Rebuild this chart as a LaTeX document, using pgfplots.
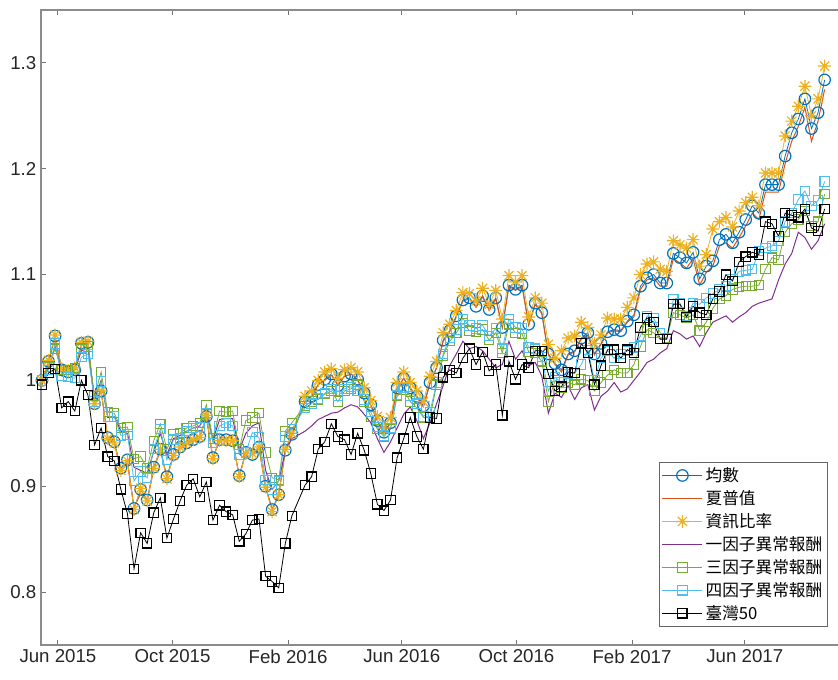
\documentclass[border=0pt]{standalone}
\usepackage{fontspec}
\setmainfont{Liberation Sans}
\newfontfamily\cjk{Noto Sans CJK TC}
\usepackage{pgfplots}
\usepackage{pgfplotstable}
\pgfplotsset{compat=1.18}
\definecolor{mblue}{RGB}{0,114,189}
\definecolor{morange}{RGB}{217,83,25}
\definecolor{myellow}{RGB}{237,177,32}
\definecolor{mpurple}{RGB}{126,47,142}
\definecolor{mgreen}{RGB}{119,172,48}
\definecolor{mcyan}{RGB}{77,190,238}
\pgfdeclareplotmark{mast}{%
  \pgfpathmoveto{\pgfqpoint{-\pgfplotmarksize}{0pt}}\pgfpathlineto{\pgfqpoint{\pgfplotmarksize}{0pt}}%
  \pgfpathmoveto{\pgfqpoint{0pt}{-\pgfplotmarksize}}\pgfpathlineto{\pgfqpoint{0pt}{\pgfplotmarksize}}%
  \pgfpathmoveto{\pgfqpoint{-0.707\pgfplotmarksize}{-0.707\pgfplotmarksize}}\pgfpathlineto{\pgfqpoint{0.707\pgfplotmarksize}{0.707\pgfplotmarksize}}%
  \pgfpathmoveto{\pgfqpoint{-0.707\pgfplotmarksize}{0.707\pgfplotmarksize}}\pgfpathlineto{\pgfqpoint{0.707\pgfplotmarksize}{-0.707\pgfplotmarksize}}%
  \pgfusepathqstroke}

\pgfplotstableread{
d B O Y P G C K
-17 1.000 1.000 1.000 1.000 1.000 1.000 0.996
-10 1.018 1.017 1.019 1.012 1.013 1.010 1.007
-3 1.042 1.041 1.043 1.032 1.030 1.035 1.011
4 1.010 1.010 1.011 1.008 1.010 1.004 0.974
11 1.008 1.009 1.009 1.008 1.010 1.003 0.980
18 1.010 1.010 1.012 1.010 1.012 1.002 0.971
25 1.035 1.034 1.036 1.028 1.030 1.022 1.000
32 1.036 1.036 1.037 1.030 1.032 1.025 0.986
39 0.978 0.977 0.978 0.982 0.985 0.980 0.939
46 0.990 0.990 0.990 1.000 1.008 0.999 0.955
53 0.946 0.945 0.945 0.965 0.970 0.966 0.928
60 0.942 0.941 0.941 0.966 0.969 0.966 0.924
67 0.917 0.914 0.915 0.952 0.955 0.948 0.897
74 0.925 0.922 0.924 0.950 0.956 0.949 0.874
81 0.879 0.880 0.878 0.918 0.926 0.905 0.822
88 0.897 0.893 0.898 0.915 0.928 0.914 0.856
95 0.887 0.886 0.886 0.912 0.917 0.908 0.846
102 0.918 0.916 0.917 0.933 0.943 0.935 0.875
109 0.935 0.934 0.935 0.950 0.959 0.954 0.889
116 0.909 0.908 0.907 0.930 0.935 0.925 0.851
123 0.930 0.929 0.929 0.945 0.949 0.944 0.869
130 0.937 0.936 0.937 0.948 0.950 0.945 0.886
137 0.941 0.940 0.941 0.952 0.955 0.952 0.901
144 0.944 0.944 0.944 0.955 0.957 0.955 0.907
151 0.947 0.946 0.946 0.957 0.960 0.956 0.890
158 0.966 0.965 0.967 0.970 0.977 0.969 0.904
165 0.927 0.926 0.926 0.944 0.945 0.941 0.868
172 0.944 0.944 0.943 0.963 0.971 0.957 0.882
179 0.944 0.943 0.943 0.964 0.970 0.960 0.876
186 0.943 0.943 0.943 0.964 0.971 0.957 0.873
193 0.910 0.909 0.909 0.934 0.935 0.930 0.848
200 0.932 0.932 0.931 0.950 0.962 0.932 0.855
207 0.930 0.930 0.931 0.957 0.965 0.951 0.868
214 0.937 0.936 0.937 0.960 0.969 0.946 0.869
221 0.900 0.899 0.899 0.915 0.932 0.906 0.815
228 0.878 0.878 0.876 0.897 0.908 0.897 0.810
235 0.892 0.891 0.892 0.905 0.906 0.905 0.804
242 0.934 0.934 0.935 0.933 0.952 0.947 0.846
249 0.949 0.948 0.950 0.945 0.960 0.954 0.872
263 0.980 0.980 0.985 0.952 0.976 0.974 0.901
270 0.985 0.985 0.990 0.957 0.980 0.978 0.909
277 0.996 0.996 1.000 0.963 0.982 0.983 0.935
284 1.001 1.000 1.008 0.966 0.987 0.988 0.942
291 1.006 1.005 1.011 0.969 0.990 0.992 0.959
298 0.995 0.996 1.002 0.970 0.980 0.985 0.947
305 1.004 1.004 1.010 0.974 0.990 0.992 0.944
312 1.006 1.006 1.012 0.977 0.992 0.994 0.930
319 1.001 1.000 1.008 0.975 0.996 0.990 0.950
326 0.988 0.988 0.993 0.968 0.980 0.982 0.934
333 0.977 0.976 0.981 0.960 0.966 0.970 0.912
340 0.962 0.962 0.966 0.945 0.954 0.956 0.883
347 0.951 0.950 0.955 0.932 0.947 0.948 0.877
354 0.960 0.960 0.965 0.942 0.954 0.955 0.887
361 0.993 0.992 0.998 0.955 0.985 0.986 0.927
368 1.002 1.002 1.008 0.968 0.991 0.993 0.945
375 0.993 0.992 0.998 0.975 0.980 0.985 0.965
382 0.985 0.984 0.990 0.962 0.974 0.978 0.947
389 0.976 0.975 0.980 0.945 0.965 0.966 0.935
396 0.998 0.997 1.004 0.960 0.965 0.970 0.965
403 1.012 1.012 1.018 0.978 0.996 0.998 0.964
410 1.038 1.037 1.045 0.995 1.023 1.025 1.003
417 1.047 1.046 1.053 1.014 1.037 1.040 1.010
424 1.061 1.060 1.066 1.025 1.045 1.048 1.007
431 1.076 1.075 1.083 1.037 1.054 1.058 1.021
438 1.078 1.077 1.082 1.030 1.047 1.052 1.030
445 1.070 1.069 1.075 1.032 1.046 1.049 1.015
452 1.080 1.079 1.087 1.028 1.048 1.052 1.027
459 1.067 1.066 1.072 1.020 1.038 1.042 1.009
466 1.078 1.077 1.085 1.012 1.045 1.049 1.015
473 1.050 1.050 1.058 1.015 1.026 1.030 0.967
480 1.090 1.089 1.099 1.037 1.053 1.058 1.018
487 1.086 1.085 1.093 1.020 1.045 1.050 1.001
494 1.090 1.089 1.099 1.028 1.044 1.049 1.015
501 1.053 1.052 1.060 1.014 1.027 1.031 1.012
508 1.073 1.072 1.078 1.017 1.026 1.030 1.028
515 1.064 1.063 1.073 1.004 1.018 1.022 1.028
522 1.025 1.024 1.034 0.969 0.980 0.990 1.006
529 1.016 1.015 1.021 0.988 1.000 1.003 0.990
536 1.010 1.008 1.028 0.984 0.993 0.998 0.994
543 1.025 1.024 1.040 0.995 0.998 1.006 1.008
550 1.028 1.027 1.042 0.982 0.996 1.007 1.007
557 1.040 1.039 1.055 0.993 1.001 1.015 1.035
564 1.045 1.043 1.050 0.996 1.000 1.029 1.026
571 1.025 1.024 1.035 0.972 0.990 1.000 0.996
578 1.035 1.034 1.043 0.985 0.998 1.021 1.014
585 1.046 1.045 1.059 0.990 1.005 1.028 1.029
592 1.048 1.047 1.058 0.998 1.010 1.021 1.029
599 1.047 1.046 1.058 0.989 1.007 1.025 1.021
606 1.056 1.055 1.069 0.992 1.007 1.028 1.029
613 1.062 1.060 1.078 1.000 1.015 1.031 1.026
620 1.089 1.086 1.100 1.008 1.032 1.042 1.050
627 1.097 1.095 1.110 1.017 1.048 1.061 1.059
634 1.100 1.097 1.112 1.020 1.045 1.059 1.055
641 1.092 1.089 1.105 1.026 1.039 1.045 1.039
648 1.092 1.089 1.103 1.030 1.040 1.039 1.039
655 1.120 1.115 1.132 1.047 1.064 1.077 1.072
662 1.116 1.111 1.128 1.044 1.062 1.073 1.072
669 1.111 1.106 1.125 1.039 1.059 1.061 1.060
676 1.121 1.115 1.133 1.042 1.062 1.073 1.070
683 1.096 1.090 1.108 1.032 1.047 1.072 1.064
690 1.108 1.102 1.119 1.045 1.055 1.078 1.062
697 1.113 1.108 1.143 1.055 1.068 1.082 1.077
704 1.133 1.127 1.150 1.058 1.077 1.086 1.084
711 1.138 1.130 1.154 1.061 1.080 1.089 1.100
718 1.130 1.125 1.145 1.055 1.086 1.096 1.094
725 1.140 1.135 1.160 1.060 1.088 1.103 1.112
732 1.152 1.146 1.168 1.064 1.089 1.104 1.117
739 1.165 1.158 1.173 1.070 1.089 1.105 1.121
746 1.158 1.152 1.165 1.073 1.090 1.122 1.119
753 1.185 1.178 1.196 1.075 1.105 1.125 1.150
760 1.185 1.178 1.196 1.077 1.116 1.127 1.148
767 1.185 1.178 1.196 1.095 1.114 1.132 1.136
774 1.212 1.205 1.231 1.110 1.140 1.150 1.158
781 1.234 1.226 1.245 1.120 1.148 1.158 1.156
788 1.247 1.240 1.259 1.140 1.152 1.171 1.154
795 1.266 1.258 1.278 1.135 1.160 1.179 1.162
802 1.238 1.226 1.250 1.124 1.146 1.165 1.144
809 1.253 1.245 1.266 1.132 1.150 1.170 1.141
816 1.284 1.275 1.297 1.148 1.176 1.188 1.162
}\data

\begin{document}
\begin{tikzpicture}
\begin{axis}[
  scale only axis, width=606.75pt, height=476.25pt,
  xmin=-18, xmax=843, ymin=0.75, ymax=1.35,
  xtick={0,122,245,366,488,611,731},
  xticklabels={Jun 2015,Oct 2015,Feb 2016,Jun 2016,Oct 2016,Feb 2017,Jun 2017},
  ytick={0.8,0.9,1,1.1,1.2,1.3},
  yticklabels={0.8,0.9,1,1.1,1.2,1.3},
  tick align=inside, major tick length=4pt,
  tick style={black!55, line width=0.7pt},
  axis line style={black!45, line width=0.9pt},
  ticklabel style={font=\fontsize{14}{16}\selectfont, text=black!85},
  legend style={at={(rel axis cs:0.9728,0.0283)}, anchor=south east,
    font=\fontsize{12.5}{15}\selectfont, draw=black!60, line width=0.6pt,
    inner xsep=2pt, inner ysep=2pt, row sep=1.2pt},
  legend cell align=left,
  legend image code/.code={\draw[mark repeat=2,mark phase=2] plot coordinates {(0pt,0pt) (15pt,0pt) (30pt,0pt)};},
]
\coordinate (bl) at (rel axis cs:0,0);
\addplot[mblue, line width=0.6pt, mark=o, mark size=4.3pt, mark options={line width=0.9pt}] table[x=d,y=B]{\data};
\addlegendentry{{\cjk 均數}}
\addplot[morange, line width=0.75pt] table[x=d,y=O]{\data};
\addlegendentry{{\cjk 夏普值}}
\addplot[myellow, line width=0.6pt, mark=mast, mark size=4.8pt, mark options={line width=0.9pt}] table[x=d,y=Y]{\data};
\addlegendentry{{\cjk 資訊比率}}
\addplot[mpurple, line width=0.75pt] table[x=d,y=P]{\data};
\addlegendentry{{\cjk 一因子異常報酬}}
\addplot[mgreen, line width=0.6pt, mark=square, mark size=3.5pt, mark options={line width=0.8pt}] table[x=d,y=G]{\data};
\addlegendentry{{\cjk 三因子異常報酬}}
\addplot[mcyan, line width=0.6pt, mark=square, mark size=3.5pt, mark options={line width=0.8pt}] table[x=d,y=C]{\data};
\addlegendentry{{\cjk 四因子異常報酬}}
\addplot[black, line width=0.6pt, mark=square, mark size=3.5pt, mark options={line width=0.9pt}] table[x=d,y=K]{\data};
\addlegendentry{{\cjk 臺灣50}}
\end{axis}
\pgfresetboundingbox
\path[use as bounding box] ([shift={(-30.75pt,-26.25pt)}]bl) rectangle ([shift={(597.75pt,483.75pt)}]bl);
\end{tikzpicture}
\end{document}
